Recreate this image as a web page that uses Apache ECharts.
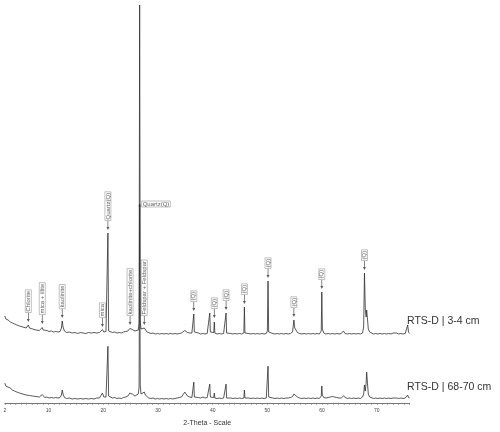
<!DOCTYPE html>
<html>
<head>
<meta charset="utf-8">
<script src="https://cdn.jsdelivr.net/npm/echarts@6/dist/echarts.min.js"></script>
<style>
  html, body { margin: 0; padding: 0; background: #fff; }
  #xrd { width: 500px; height: 432px; }
</style>
</head>
<body>
<div id="xrd"></div>
<script>
// 2-theta / intensity pairs (arbitrary units)
var top_34 = [
  [2.0,21],[2.2,18],[2.4,20],[2.6,17],[2.8,18],[3.0,15],[3.2,17],[3.4,14],[3.6,15],[3.8,13],
  [4.0,14],[4.2,12],[4.4,13],[4.7,11],[5.0,12],[5.3,10],[5.6,10.5],[5.9,9],[6.1,10],[6.3,12],
  [6.5,9],[6.8,8.5],[7.1,8],[7.4,8.5],[7.7,7],[8.0,7.5],[8.3,6.5],[8.6,7],[8.85,9.5],[9.0,7],
  [9.3,6],[9.7,6.5],[10.1,5.5],[10.5,6],[10.9,5],[11.3,5.5],[11.7,5],[12.1,5.5],[12.35,9],[12.5,16],
  [12.65,10],[12.9,6],[13.3,4.5],[13.8,5],[14.3,4],[14.8,4.5],[15.3,3.5],[15.8,4.5],[16.3,4],[16.8,3.5],
  [17.3,4.5],[17.8,4],[18.3,4.5],[18.8,4],[19.3,4.5],[19.6,5],[19.85,7.5],[20.1,5],[20.5,5.5],[20.72,6],
  [20.85,104],[20.98,6],[21.3,5],[21.7,4.5],[22.1,5],[22.5,4],[22.9,4.5],[23.3,4],[23.7,5],[24.1,5.5],
  [24.5,6],[24.85,8.5],[25.1,7],[25.3,7.5],[25.55,8],[25.8,6],[26.1,5],[26.4,7],[26.55,14],[26.65,332],
  [26.76,16],[26.9,8],[27.2,6],[27.5,9],[27.7,7],[28.0,5],[28.3,4],[28.7,3.5],[29.1,4],[29.5,3],
  [29.9,3.5],[30.3,3],[30.7,3.5],[31.1,3],[31.5,3.5],[31.9,3],[32.3,3.5],[32.7,3],[33.1,3.5],[33.5,3],
  [33.9,3.5],[34.3,4],[34.6,5],[34.9,6.5],[35.1,5.5],[35.4,4.5],[35.8,4],[36.2,4],[36.45,5],[36.55,23],
  [36.65,5],[37.0,3.5],[37.4,4],[37.8,3],[38.2,3.5],[38.6,3],[39.0,3.5],[39.35,5],[39.47,24],[39.58,5],
  [39.9,4],[40.2,4.5],[40.3,15],[40.4,4],[40.8,3],[41.2,3.5],[41.6,3],[42.0,3.5],[42.35,4],[42.45,24],
  [42.55,4],[42.9,3],[43.3,3.5],[43.7,3],[44.1,3.5],[44.5,3],[44.9,3.5],[45.3,3],[45.7,4],[45.8,30],
  [45.9,4],[46.2,3],[46.6,3.5],[47.0,3],[47.4,3.5],[47.8,3],[48.2,3.5],[48.6,3],[49.0,3.5],[49.4,3],
  [49.8,3.5],[50.0,6],[50.12,56],[50.24,5],[50.6,3],[51.0,3.5],[51.4,3],[51.8,3.5],[52.2,3],[52.6,3.5],
  [53.0,3],[53.4,3.5],[53.8,3],[54.2,3.5],[54.6,5],[54.85,17],[55.0,9],[55.2,7],[55.5,4.5],[55.9,3.5],
  [56.3,3],[56.7,3.5],[57.1,3],[57.5,3.5],[57.9,3],[58.3,3.5],[58.7,3],[59.1,3.5],[59.5,3],[59.85,6],
  [59.95,45],[60.05,8],[60.3,4],[60.7,3],[61.1,3.5],[61.5,3],[61.9,3.5],[62.3,3],[62.7,3.5],[63.1,3],
  [63.5,3.5],[63.9,6],[64.2,3.5],[64.6,3],[65.0,3.5],[65.4,3],[65.8,3.5],[66.2,3],[66.6,3.5],[67.0,3],
  [67.4,4],[67.6,10],[67.75,64],[67.9,28],[68.05,20],[68.15,27],[68.3,18],[68.45,8],[68.7,5],[69.0,3.5],
  [69.4,3],[69.8,3.5],[70.2,3],[70.6,3.5],[71.0,3],[71.4,3.5],[71.8,3],[72.2,3.5],[72.6,3],[73.0,4],
  [73.3,6],[73.6,4],[74.0,3],[74.4,3.5],[74.8,3],[75.2,3.5],[75.5,5],[75.65,12],[75.8,5],[76.0,3.5]
];

var bot_6870 = [
  [2.0,20],[2.2,17],[2.4,19],[2.6,16],[2.8,17],[3.0,15],[3.2,16],[3.4,13],[3.6,14],[3.8,12],
  [4.0,13],[4.2,11],[4.4,12],[4.7,10],[5.0,11],[5.3,9],[5.6,9.5],[5.9,8],[6.2,8.5],[6.5,7.5],
  [6.8,8],[7.1,7],[7.4,7.5],[7.7,6.5],[8.0,7],[8.3,6],[8.6,6.5],[8.85,8.5],[9.0,6.5],[9.3,5.5],
  [9.7,6],[10.1,5],[10.5,5.5],[10.9,5],[11.3,5.5],[11.7,5],[12.1,5.5],[12.35,8],[12.5,13],[12.65,9],
  [12.9,5.5],[13.3,4.5],[13.8,5],[14.3,4],[14.8,4.5],[15.3,4],[15.8,4.5],[16.3,4],[16.8,4.5],[17.3,4],
  [17.8,4.5],[18.3,4],[18.8,5],[19.3,5],[19.6,6],[19.85,10],[20.1,6],[20.5,6],[20.72,7],[20.85,57],
  [20.98,7],[21.3,5.5],[21.7,5],[22.1,5.5],[22.5,4.5],[22.9,5],[23.3,4.5],[23.7,5.5],[24.1,6],[24.5,7],
  [24.85,10],[25.1,8],[25.3,9],[25.55,10],[25.8,7],[26.1,6],[26.4,9],[26.55,16],[26.65,200],[26.76,18],
  [26.9,9],[27.2,7],[27.5,11],[27.7,8],[28.0,6],[28.3,5],[28.7,4.5],[29.1,5],[29.5,4],[29.9,4.5],
  [30.3,4],[30.7,4.5],[31.1,4],[31.5,4.5],[31.9,4],[32.3,4.5],[32.7,4],[33.1,4.5],[33.5,5],[33.9,5.5],
  [34.3,6],[34.6,8],[34.9,11],[35.1,9],[35.4,7],[35.8,6],[36.2,5.5],[36.45,6],[36.55,21],[36.65,6],
  [37.0,5],[37.4,5.5],[37.8,5],[38.2,6],[38.6,5],[39.0,5.5],[39.35,6],[39.47,19],[39.58,6],[39.9,5],
  [40.2,5.5],[40.3,10],[40.4,5],[40.8,4.5],[41.2,5],[41.6,4.5],[42.0,5],[42.35,5],[42.45,19],[42.55,5],
  [42.9,4.5],[43.3,5],[43.7,4.5],[44.1,5],[44.5,4.5],[44.9,5],[45.3,4.5],[45.7,5],[45.8,13],[45.9,5],
  [46.2,4.5],[46.6,5],[47.0,4.5],[47.4,5],[47.8,4.5],[48.2,5],[48.6,4.5],[49.0,5],[49.4,4.5],[49.8,5],
  [50.0,7],[50.12,37],[50.24,6],[50.6,4.5],[51.0,5],[51.4,4.5],[51.8,5],[52.2,4.5],[52.6,5],[53.0,4.5],
  [53.4,5],[53.8,5],[54.2,5.5],[54.6,6.5],[54.85,9],[55.0,7.5],[55.2,7],[55.5,6],[55.9,5],[56.3,4.5],
  [56.7,5],[57.1,4.5],[57.5,5],[57.9,4.5],[58.3,5],[58.7,4.5],[59.1,5],[59.5,4.5],[59.85,7],[59.95,17],
  [60.05,8],[60.3,5.5],[60.7,5],[61.1,5.5],[61.5,6],[61.9,6.5],[62.3,6],[62.7,5.5],[63.1,5],[63.5,5],
  [63.9,7],[64.2,5],[64.6,4.5],[65.0,5],[65.4,4.5],[65.8,5],[66.2,4.5],[66.6,5],[67.0,4.5],[67.4,6],
  [67.6,9],[67.75,18],[67.9,12],[68.05,20],[68.15,31],[68.3,20],[68.45,9],[68.7,6],[69.0,5],[69.4,4.5],
  [69.8,5],[70.2,4.5],[70.6,5],[71.0,4.5],[71.4,5],[71.8,4.5],[72.2,5],[72.6,4.5],[73.0,5],[73.3,6],
  [73.6,5],[74.0,4.5],[74.4,5],[74.8,4.5],[75.2,5],[75.5,5.5],[75.65,8],[75.8,5.5],[76.0,5]
];

// phase labels on the upper pattern: 2-theta, arrow tip height, text
var phase_pos = [6.3, 8.85, 12.5, 19.85, 20.85, 24.9, 27.5, 36.55, 40.3, 42.45, 45.8, 50.12, 54.85, 59.95, 67.75];
var phase_tip = [15, 13, 19, 10, 107, 12, 12, 26, 19, 27, 33, 59, 20, 48, 67];
var phase_txt = ['Chlorite', 'mica + illite', 'kaolinite', 'mica', 'Quartz(Q)', 'kaolinite+chlorite',
                 'Feldspar + Feldspar', '(Q)', '(Q)', '(Q)', '(Q)', '(Q)', '(Q)', '(Q)', '(Q)'];

var tick_labels = [2, 10, 20, 30, 40, 50, 60, 70];
var sample_names = ['RTS-D | 3-4 cm', 'RTS-D | 68-70 cm'];

var minor_ticks = [];
for (var t = 2; t <= 76; t++) minor_ticks.push(t);

// arrow: thin stem with a small head, tip sits on the data point
var arrow = 'path://M-0.35,0 L0.35,0 L0.35,6 L1.4,6 L0,9 L-1.4,6 L-0.35,6 Z';

var marks = [];
for (var i = 0; i < phase_pos.length; i++) {
  marks.push({ name: phase_txt[i], value: [phase_pos[i], phase_tip[i]] });
}
// main quartz reflection gets a horizontal tag
marks.push({
  name: 'Quartz(Q)', value: [26.65, 131],
  symbolSize: [2, 2], symbolOffset: [0, 0], symbol: 'circle',
  label: { rotate: 0, position: 'right', align: 'left', verticalAlign: 'bottom', distance: 1, offset: [0, 1] }
});

var nameFont = { fontFamily: 'Liberation Sans', fontSize: 10.5, fontWeight: 'normal', color: '#333' };

var chart = echarts.init(document.getElementById('xrd'));
var option = {
  animation: false,
  title: [
    { text: sample_names[0], left: 402, top: 311, textStyle: nameFont },
    { text: sample_names[1], left: 402, top: 377, textStyle: nameFont }
  ],
  grid: [
    { left: 4.8, right: 90.4, top: 5, bottom: 95 },
    { left: 4.8, right: 90.4, top: 5, bottom: 27 }
  ],
  xAxis: [
    { gridIndex: 0, type: 'value', min: 2, max: 76, show: false },
    { gridIndex: 1, type: 'value', min: 2, max: 76,
      name: '2-Theta - Scale', nameLocation: 'middle', nameGap: 17,
      nameTextStyle: { fontFamily: 'Liberation Sans', fontSize: 7, color: '#333' },
      axisLine: { lineStyle: { color: '#777', width: 1 } },
      axisTick: { customValues: minor_ticks, length: 2, lineStyle: { color: '#777', width: 0.6 } },
      axisLabel: { customValues: tick_labels, fontSize: 5, color: '#444', margin: 5,
                   fontFamily: 'Liberation Sans' },
      splitLine: { show: false } }
  ],
  yAxis: [
    { gridIndex: 0, type: 'value', min: 0, max: 332, show: false },
    { gridIndex: 1, type: 'value', min: 0, max: 400, show: false }
  ],
  series: [
    { name: sample_names[1], type: 'line', xAxisIndex: 1, yAxisIndex: 1, data: bot_6870,
      symbol: 'none', silent: true, lineStyle: { color: '#2e2e2e', width: 0.8 } },
    { name: sample_names[0], type: 'line', xAxisIndex: 0, yAxisIndex: 0, data: top_34,
      symbol: 'none', silent: true, clip: false, lineStyle: { color: '#2e2e2e', width: 0.8 } },
    { name: 'phases', type: 'scatter', xAxisIndex: 0, yAxisIndex: 0, data: marks, silent: true,
      symbol: arrow, symbolSize: [3, 9], symbolOffset: [0, -4.5],
      itemStyle: { color: '#333' },
      label: { show: true, formatter: '{b}', position: 'top', distance: 0.5, rotate: 90,
               align: 'left', verticalAlign: 'middle',
               fontFamily: 'Liberation Sans', fontSize: 6, color: '#333',
               borderColor: '#666', borderWidth: 0.5, padding: [0, 1, 0, 1] } }
  ]
};
chart.setOption(option);
</script>
</body>
</html>
